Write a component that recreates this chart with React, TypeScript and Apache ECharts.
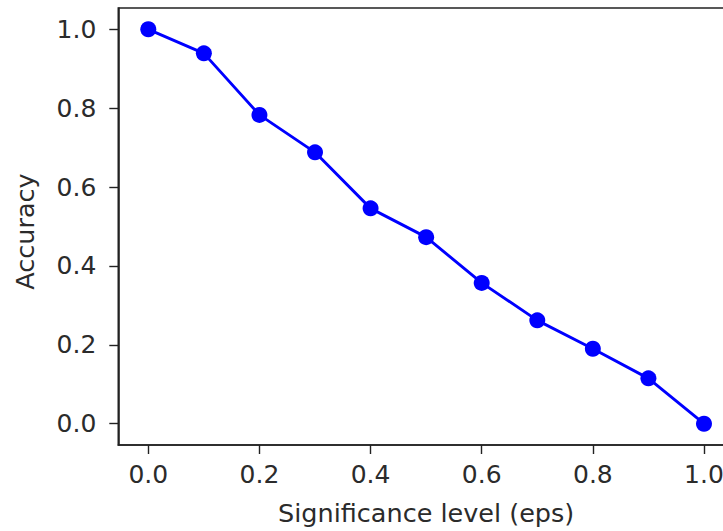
import React, { useEffect, useRef } from "react";
import * as echarts from "echarts";

const epsValues = [0.0, 0.1, 0.2, 0.3, 0.4, 0.5, 0.6, 0.7, 0.8, 0.9, 1.0];
const accuracy = [1.0, 0.939, 0.783, 0.688, 0.546, 0.473, 0.357, 0.262, 0.19, 0.115, 0.0];
const tickValues = [0.0, 0.2, 0.4, 0.6, 0.8, 1.0];
const xAxisTitle = "Significance level (eps)";
const yAxisTitle = "Accuracy";

export default function App() {
  const ref = useRef<HTMLDivElement>(null);
  useEffect(() => {
    if (!ref.current) return;
    const chart = echarts.init(ref.current, null, { renderer: "svg" });
    const font = "DejaVu Sans";
    const textColor = "#2b2b2b";
    const axisCommon = {
      type: "value" as const,
      min: -0.054,
      max: 1.054,
      splitLine: { show: false },
      axisLine: { show: true, onZero: false, lineStyle: { color: "#222", width: 1.6 } },
      axisTick: {
        show: true,
        length: 9,
        inside: false,
        lineStyle: { color: "#222", width: 1.4 },
        customValues: tickValues,
      },
      axisLabel: {
        customValues: tickValues,
        formatter: (v: number) => v.toFixed(1),
        color: textColor,
        fontFamily: font,
        fontSize: 25,
      },
      nameLocation: "middle" as const,
      nameTextStyle: { color: textColor, fontFamily: font, fontSize: 25.5 },
    };
    chart.setOption({
      animation: false,
      backgroundColor: "#ffffff",
      grid: {
        left: 118.3,
        top: 8,
        width: 615.7,
        height: 438.1,
        show: true,
        borderColor: "#222",
        borderWidth: 1.6,
        backgroundColor: "transparent",
      },
      xAxis: {
        ...axisCommon,
        name: xAxisTitle,
        nameGap: 55,
        axisLabel: { ...axisCommon.axisLabel, margin: 17 },
      },
      yAxis: {
        ...axisCommon,
        name: yAxisTitle,
        nameGap: 80,
        nameTextStyle: { ...axisCommon.nameTextStyle, padding: [0, 10, 0, 0] },
        axisLabel: { ...axisCommon.axisLabel, margin: 22 },
      },
      series: [
        {
          type: "line",
          data: epsValues.map((x, i) => [x, accuracy[i]]),
          symbol: "circle",
          symbolSize: 16,
          lineStyle: { color: "#0000ff", width: 2.9 },
          itemStyle: { color: "#0000ff" },
          clip: false,
        },
      ],
    });
    return () => chart.dispose();
  }, []);
  return (
    <div
      ref={ref}
      style={{ position: "fixed", left: 0, top: 0, width: 760, height: 531, background: "#fff" }}
    />
  );
}
